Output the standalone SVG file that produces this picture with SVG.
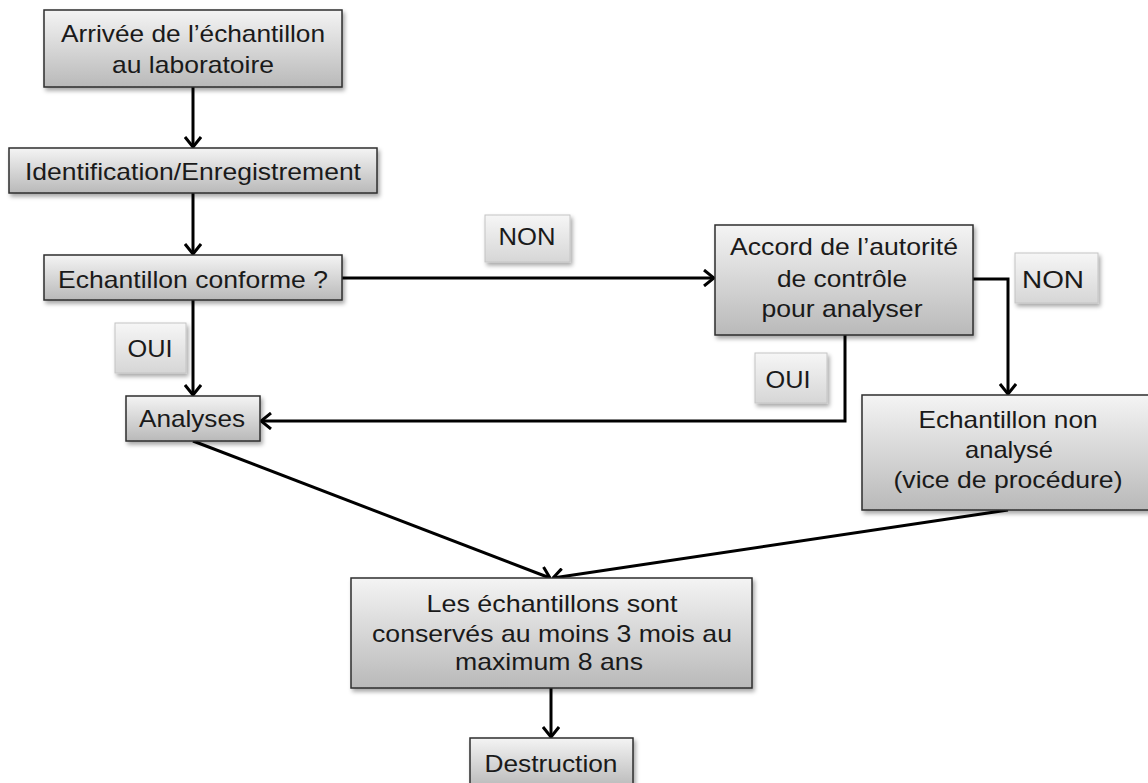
<svg xmlns="http://www.w3.org/2000/svg" width="1148" height="783" viewBox="0 0 1148 783">
<defs>
<linearGradient id="gBox" x1="0" y1="0" x2="0" y2="1">
<stop offset="0" stop-color="#f4f4f4"/>
<stop offset="1" stop-color="#b9b9b9"/>
</linearGradient>
<linearGradient id="gLab" x1="0" y1="0" x2="0" y2="1">
<stop offset="0" stop-color="#f6f6f6"/>
<stop offset="1" stop-color="#d6d6d6"/>
</linearGradient>
<filter id="sh" x="-10%" y="-10%" width="130%" height="140%">
<feDropShadow dx="2" dy="3" stdDeviation="2" flood-color="#000" flood-opacity="0.35"/>
</filter>
<marker id="arr" viewBox="0 0 12 18" refX="11" refY="9" markerWidth="12" markerHeight="18" markerUnits="userSpaceOnUse" orient="auto">
<path d="M1,1 L11,9 L1,17" fill="none" stroke="#000" stroke-width="3" stroke-linejoin="miter"/>
</marker>
</defs>
<style>
.box{fill:url(#gBox);stroke:#2e2e2e;stroke-width:1.5;filter:url(#sh)}
.lab{fill:url(#gLab);stroke:#c4c4c4;stroke-width:1;filter:url(#sh)}
text{font-family:"Liberation Sans",Arial,sans-serif;font-size:24px;fill:#1a1a1a;text-anchor:middle}
.c{fill:none;stroke:#000;stroke-width:3}
.ca{fill:none;stroke:#000;stroke-width:3;marker-end:url(#arr)}
</style>
<rect width="1148" height="783" fill="#fff"/>
<g id="connectors">
<line class="ca" x1="193" y1="87" x2="193" y2="147"/>
<line class="ca" x1="193" y1="193" x2="193" y2="254"/>
<line class="ca" x1="342" y1="278" x2="714" y2="278"/>
<polyline class="ca" points="973,279 1008,279 1008,394"/>
<polyline class="ca" points="845,335 845,421 261,421"/>
<line class="ca" x1="193" y1="300" x2="193" y2="395"/>
<line class="ca" x1="193" y1="441" x2="550" y2="578"/>
<line class="ca" x1="1008" y1="510" x2="553" y2="578"/>
<line class="ca" x1="551" y1="688" x2="551" y2="737"/>
</g>
<g id="n1">
<rect class="box" x="44" y="10" width="298" height="77"/>
<text x="193" y="42" textLength="264" lengthAdjust="spacingAndGlyphs">Arrivée de l’échantillon</text>
<text x="193" y="73" textLength="162" lengthAdjust="spacingAndGlyphs">au laboratoire</text>
</g>
<g id="n2">
<rect class="box" x="9" y="148" width="368" height="45"/>
<text x="193" y="180" textLength="336" lengthAdjust="spacingAndGlyphs">Identification/Enregistrement</text>
</g>
<g id="n3">
<rect class="box" x="44" y="255" width="298" height="45"/>
<text x="193" y="288" textLength="270" lengthAdjust="spacingAndGlyphs">Echantillon  conforme ?</text>
</g>
<g id="lab-non1">
<rect class="lab" x="485" y="215" width="85" height="47"/>
<text x="527" y="245" textLength="57" lengthAdjust="spacingAndGlyphs">NON</text>
</g>
<g id="n4">
<rect class="box" x="715" y="225" width="258" height="110"/>
<text x="844" y="255" textLength="228" lengthAdjust="spacingAndGlyphs">Accord de l’autorité</text>
<text x="842" y="287" textLength="130" lengthAdjust="spacingAndGlyphs">de contrôle</text>
<text x="842" y="317" textLength="161" lengthAdjust="spacingAndGlyphs">pour  analyser</text>
</g>
<g id="lab-non2">
<rect class="lab" x="1015" y="253" width="83" height="50"/>
<text x="1053" y="288" textLength="62" lengthAdjust="spacingAndGlyphs">NON</text>
</g>
<g id="lab-oui1">
<rect class="lab" x="115" y="323" width="71" height="50"/>
<text x="150" y="357" textLength="45" lengthAdjust="spacingAndGlyphs">OUI</text>
</g>
<g id="lab-oui2">
<rect class="lab" x="755" y="353" width="72" height="50"/>
<text x="788" y="388" textLength="45" lengthAdjust="spacingAndGlyphs">OUI</text>
</g>
<g id="n5">
<rect class="box" x="126" y="396" width="134" height="45"/>
<text x="192" y="427" textLength="106" lengthAdjust="spacingAndGlyphs">Analyses</text>
</g>
<g id="n6">
<rect class="box" x="862" y="395" width="292" height="115"/>
<text x="1008" y="428" textLength="179" lengthAdjust="spacingAndGlyphs">Echantillon  non</text>
<text x="1009" y="458" textLength="88" lengthAdjust="spacingAndGlyphs">analysé</text>
<text x="1008" y="488" textLength="229" lengthAdjust="spacingAndGlyphs">(vice de procédure)</text>
</g>
<g id="n7">
<rect class="box" x="351" y="578" width="401" height="110"/>
<text x="552" y="612" textLength="251" lengthAdjust="spacingAndGlyphs">Les échantillons  sont</text>
<text x="552" y="642" textLength="360" lengthAdjust="spacingAndGlyphs">conservés au moins  3 mois au</text>
<text x="549" y="670" textLength="188" lengthAdjust="spacingAndGlyphs">maximum  8 ans</text>
</g>
<g id="n8">
<rect class="box" x="470" y="738" width="163" height="50"/>
<text x="551" y="772" textLength="133" lengthAdjust="spacingAndGlyphs">Destruction</text>
</g>
</svg>
